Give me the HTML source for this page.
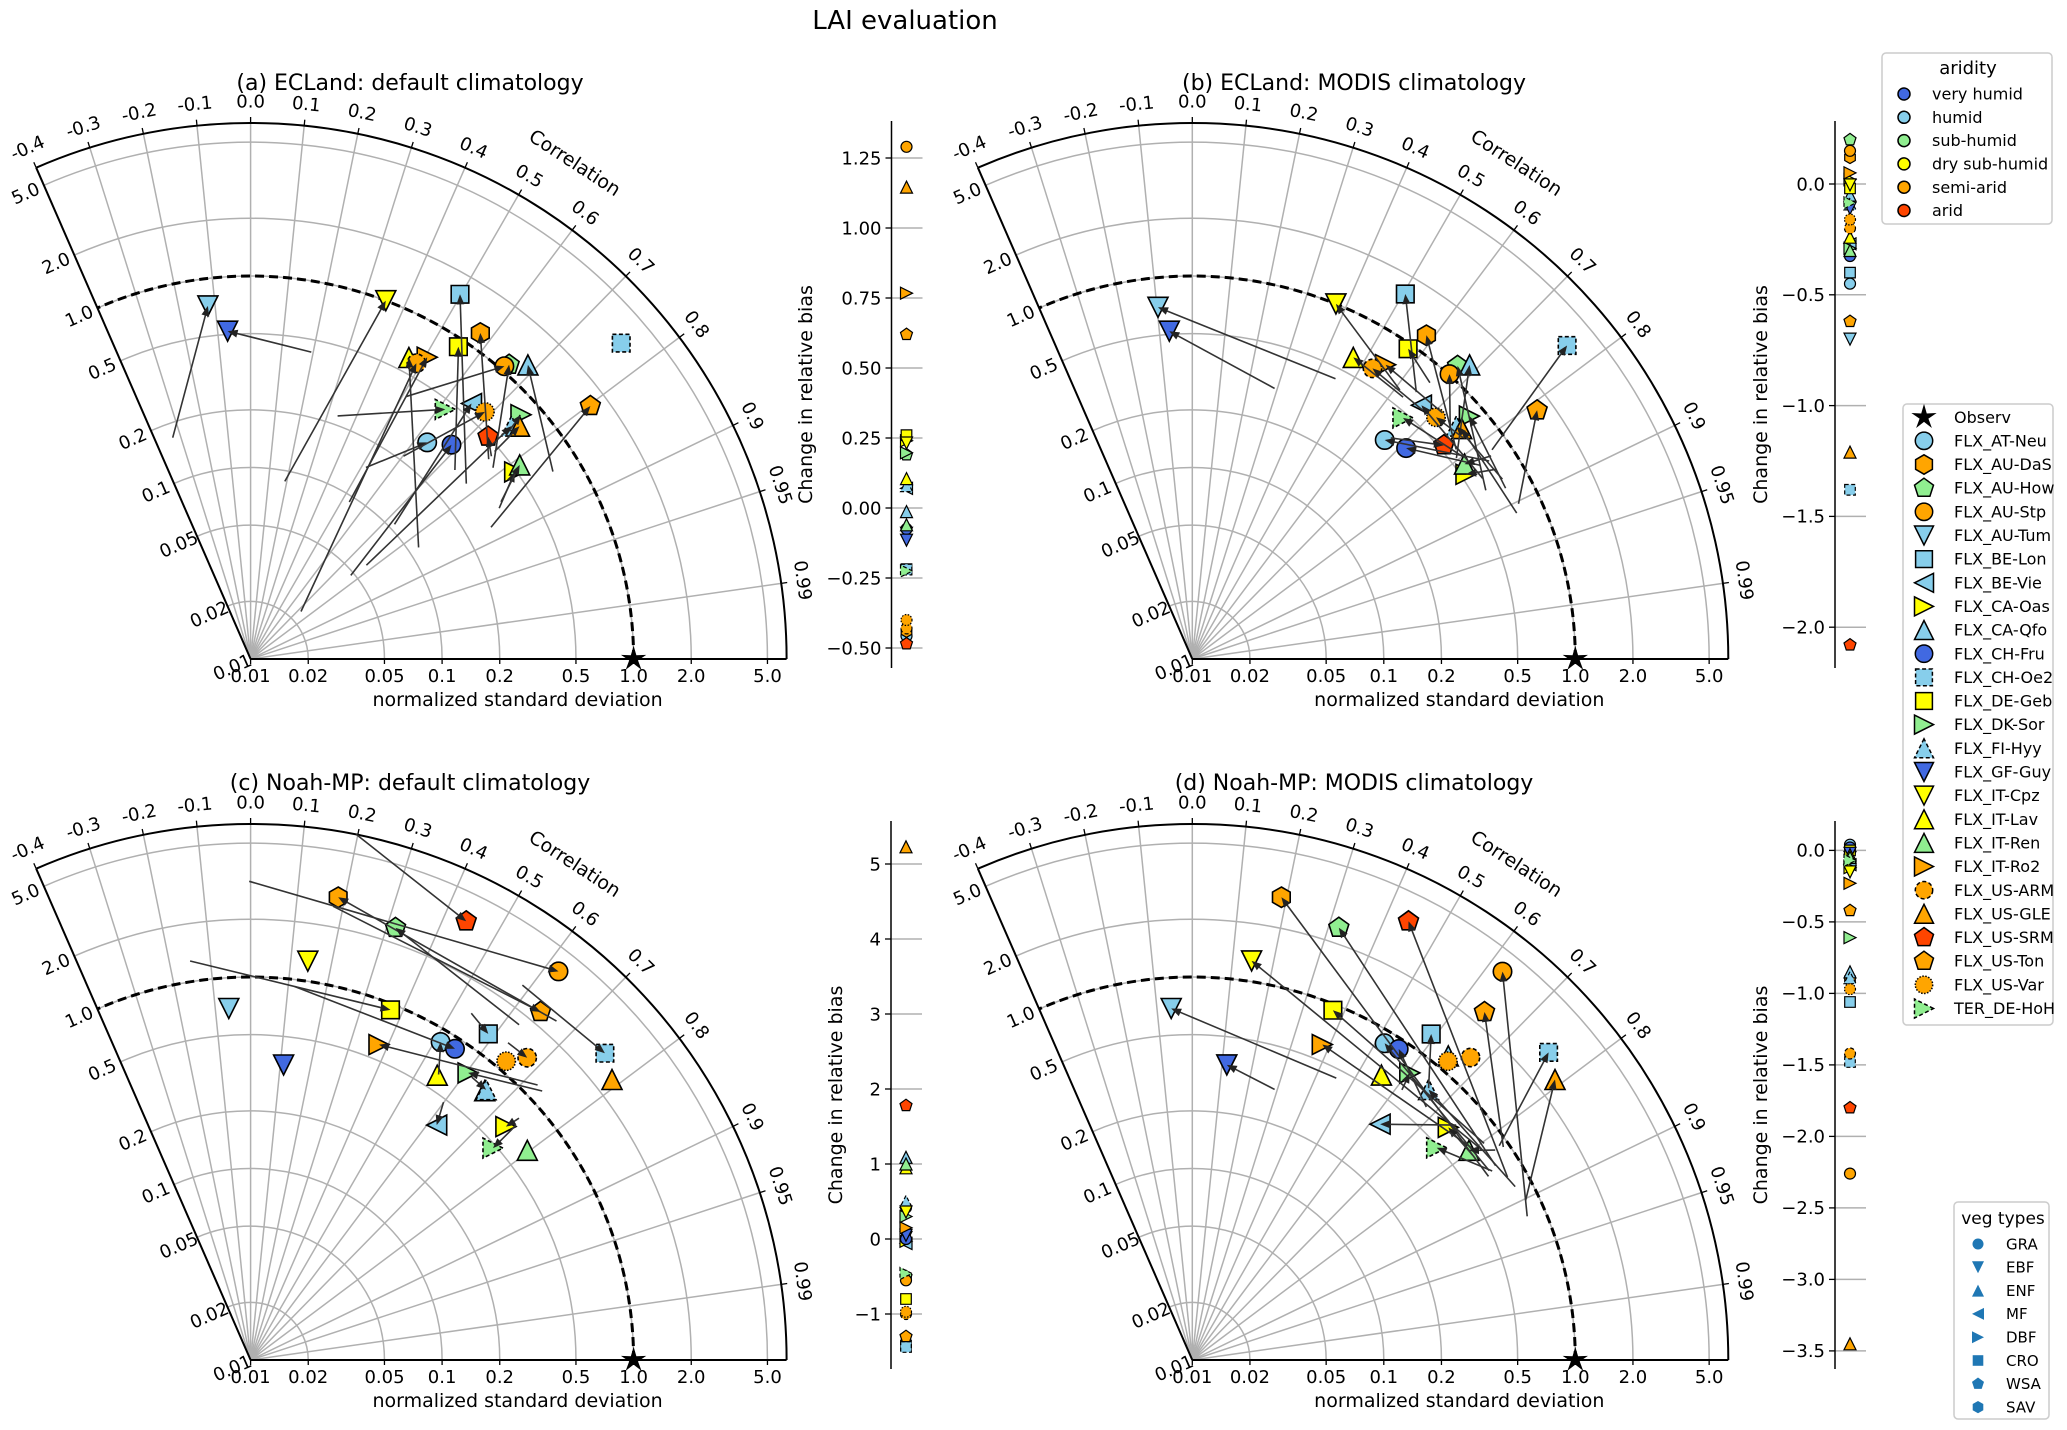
<!DOCTYPE html>
<html><head><meta charset="utf-8"><title>LAI evaluation</title>
<style>
html,body{margin:0;padding:0;background:#fff;}
svg{display:block;font-family:"DejaVu Sans","Liberation Sans",sans-serif;}
</style></head>
<body>
<svg id="chart" width="2067" height="1430" viewBox="0 0 2067 1430" xmlns="http://www.w3.org/2000/svg">
<rect x="0" y="0" width="2067" height="1430" fill="#fff"/>
<text x="905" y="29" font-size="26" text-anchor="middle">LAI evaluation</text>
</svg>
<script>
// ---------------- data ----------------
const sites = ['FLX_AT-Neu','FLX_AU-DaS','FLX_AU-How','FLX_AU-Stp','FLX_AU-Tum','FLX_BE-Lon','FLX_BE-Vie','FLX_CA-Oas','FLX_CA-Qfo','FLX_CH-Fru','FLX_CH-Oe2','FLX_DE-Geb','FLX_DK-Sor','FLX_FI-Hyy','FLX_GF-Guy','FLX_IT-Cpz','FLX_IT-Lav','FLX_IT-Ren','FLX_IT-Ro2','FLX_US-ARM','FLX_US-GLE','FLX_US-SRM','FLX_US-Ton','FLX_US-Var','TER_DE-HoH'];
const siteShape = ['o','h','p','o','v','s','<','>','^','o','s','s','>','^','v','v','^','^','>','o','^','p','p','o','>'];
const siteColor = ['#87ceeb','#ffa500','#90ee90','#ffa500','#87ceeb','#87ceeb','#87ceeb','#ffff00','#87ceeb','#4169e1','#87ceeb','#ffff00','#90ee90','#87ceeb','#4169e1','#ffff00','#ffff00','#90ee90','#ffa500','#ffa500','#ffa500','#ff4500','#ffa500','#ffa500','#90ee90'];
const siteDash = ['','','','','','','','','','','dash','','','dash','','','','','','dash','','','','dot','dash'];

// panel (a) ECLand default
const corrEndA = [.632,.576,.660,.655,-.120,.498,.654,.816,.686,.684,.761,.554,.742,.746,-.070,.353,.465,.811,.505,.489,.756,.730,.802,.688,.615];
const stdEndA = [.288,1.21,1.11,1.055,.72,1.57,.58,.49,1.29,.342,3.49,.91,.80,.67,.52,1.0,.60,.54,.67,.59,.72,.50,1.63,.60,.45];
const corrStartA = [.516,.766,.785,.509,-.332,.776,.730,.855,.850,.768,.761,.734,.751,.777,.194,.189,.833,.847,.532,.728,.762,.765,.877,.602,.337];
const stdStartA = [.147,.42,.41,.39,.168,.283,.107,.33,.72,.048,3.49,.284,.61,.060,.43,.088,.113,.35,.093,.023,.47,.44,.27,.212,.223];
const biasA = [-.457,-.44,.19,1.29,-.09,-.218,.07,.24,-.013,-.075,-.22,.26,.197,.08,-.115,.232,.105,-.06,.767,-.43,1.146,-.485,.62,-.40,-.225];
const biasTicksA = [1.25,1.00,0.75,0.50,0.25,0.00,-0.25,-0.50];

// panel (b) ECLand MODIS
const corrEndB = [.660,.586,.671,.670,-.097,.504,.670,.829,.686,.712,.767,.571,.752,.750,-.070,.375,.471,.813,.549,.527,.760,.762,.811,.710,.658];
const stdEndB = [.333,1.22,1.16,1.01,.70,1.61,.61,.53,1.29,.37,3.56,.94,.84,.69,.52,1.0,.61,.56,.69,.61,.71,.53,1.66,.62,.47];
const corrStartB = [.832,.783,.867,.743,.455,.643,.849,.848,.796,.830,.820,.652,.878,.865,.291,.611,.627,.827,.713,.680,.912,.668,.903,.774,.800];
const stdStartB = [.73,.575,.586,.65,.44,.66,.61,.74,.54,.65,.81,.80,.73,.745,.30,.595,.57,.77,.68,.59,.72,.356,.77,.67,.58];
const biasB = [-.45,.12,.2,.15,-.70,-.40,-.27,.02,-.05,-.325,-1.38,-.02,-.29,-.09,-.11,-.004,-.24,-.3,.05,-.2,-1.21,-2.08,-.62,-.16,-.085];
const biasTicksB = [0.0,-0.5,-1.0,-1.5,-2.0];

// panel (c) Noah-MP default
const corrEndC = [.513,.186,.318,.621,-.062,.589,.621,.738,.656,.549,.756,.371,.604,.657,.111,.142,.548,.797,.377,.675,.790,.441,.640,.650,.753];
const stdEndC = [.86,2.88,2.40,3.88,.69,1.28,.367,.64,.73,.88,2.80,.93,.76,.745,.355,1.27,.60,.65,.60,1.38,2.45,3.57,2.32,1.13,.48];
const corrStartC = [.550,.670,.625,-.003,-.062,.537,.599,.743,.656,.117,.587,-.150,.735,.616,.111,.142,.548,.797,.722,.630,.790,.197,.179,.650,.749];
const stdStartC = [.61,2.42,1.75,3.16,.69,1.40,.48,.77,.73,.92,2.62,1.28,1.18,.75,.355,1.27,.60,.65,1.19,1.36,2.45,6.3,2.56,1.13,.71];
const biasC = [.42,-.52,-.5,-.55,.02,-1.42,-.06,-.03,1.09,0,-1.44,-.8,.3,.5,.05,.36,.95,1.0,.15,-1.0,5.23,1.78,-1.3,-.97,-.46];
const biasTicksC = [5,4,3,2,1,0,-1];

// panel (d) Noah-MP MODIS
const corrEndD = [.519,.189,.321,.624,-.060,.591,.623,.740,.644,.553,.757,.373,.604,.658,.116,.147,.553,.797,.381,.677,.791,.442,.643,.650,.755];
const stdEndD = [.86,2.89,2.42,3.94,.69,1.29,.375,.64,1.19,.89,2.87,.93,.76,.75,.356,1.28,.61,.65,.605,1.40,2.48,3.58,2.36,1.13,.49];
const corrStartD = [.843,.850,.842,.919,.455,.656,.747,.807,.644,.679,.820,.803,.613,.881,.291,.810,.553,.822,.797,.677,.902,.865,.825,.650,.846];
const stdStartD = [.69,.66,.76,.80,.45,.76,.70,.65,1.19,.63,.90,.79,.61,.82,.30,.74,.61,.84,.68,1.40,.85,.80,.93,1.13,.71];
const biasD = [.04,-.9,-.08,-2.26,-.05,-1.06,-.1,-.12,-.85,.02,-1.48,0,-.61,-.89,-.02,-.15,-.03,-.05,-.23,-1.42,-3.45,-1.8,-.42,-.97,-.07];
const biasTicksD = [0.0,-0.5,-1.0,-1.5,-2.0,-2.5,-3.0,-3.5];

const corrTicks = [-0.4,-0.3,-0.2,-0.1,0.0,0.1,0.2,0.3,0.4,0.5,0.6,0.7,0.8,0.9,0.95,0.99];
const corrTickLabels = ['-0.4','-0.3','-0.2','-0.1','0.0','0.1','0.2','0.3','0.4','0.5','0.6','0.7','0.8','0.9','0.95','0.99'];
const stdTicks = [0.01,0.02,0.05,0.1,0.2,0.5,1,2,5];
const stdTickLabels = ['0.01','0.02','0.05','0.1','0.2','0.5','1.0','2.0','5.0'];

const aridityNames = ['very humid','humid','sub-humid','dry sub-humid','semi-arid','arid'];
const aridityColors = ['#4169e1','#87ceeb','#90ee90','#ffff00','#ffa500','#ff4500'];
const vegNames = ['GRA','EBF','ENF','MF','DBF','CRO','WSA','SAV'];
const vegShapes = ['o','v','^','<','>','s','p','h'];

// ---------------- drawing ----------------
const NS = 'http://www.w3.org/2000/svg';
const svg = document.getElementById('chart');
function mk(tag, parent){ const e = document.createElementNS(NS, tag); (parent||svg).appendChild(e); return e; }
function setA(e, o){ for (const k in o) e.setAttribute(k, o[k]); return e; }

const K = 191.5, R = 536, TMAX = Math.acos(-0.4);
function rOf(s){ return Math.max(0, K*Math.log10(s/0.01)); }
function pos(p, c, s){ const r = rOf(s), t = Math.acos(Math.max(-1,Math.min(1,c))); return [p.ox + r*Math.cos(t), p.oy - r*Math.sin(t)]; }

function poly(pts){ return pts.map(q=>q[0].toFixed(1)+','+q[1].toFixed(1)).join(' '); }
function shapePts(shape, x, y, d){
  const h = d/2; let pts = [];
  if (shape==='^') pts=[[x,y-h],[x-h,y+h],[x+h,y+h]];
  else if (shape==='v') pts=[[x,y+h],[x-h,y-h],[x+h,y-h]];
  else if (shape==='<') pts=[[x-h,y],[x+h,y-h],[x+h,y+h]];
  else if (shape==='>') pts=[[x+h,y],[x-h,y-h],[x-h,y+h]];
  else if (shape==='s') { const a=h*0.88; pts=[[x-a,y-a],[x+a,y-a],[x+a,y+a],[x-a,y+a]]; }
  else if (shape==='p') { for(let i=0;i<5;i++){const a=-Math.PI/2+i*2*Math.PI/5; pts.push([x+h*1.05*Math.cos(a), y+h*1.05*Math.sin(a)]);} }
  else if (shape==='h') { for(let i=0;i<6;i++){const a=-Math.PI/2+i*Math.PI/3; pts.push([x+h*1.02*Math.cos(a), y+h*1.02*Math.sin(a)]);} }
  else if (shape==='*') { for(let i=0;i<10;i++){const a=-Math.PI/2+i*Math.PI/5; const rr=(i%2?0.4:1.15)*h; pts.push([x+rr*Math.cos(a), y+rr*Math.sin(a)]);} }
  return pts;
}
function marker(parent, shape, x, y, d, fill, dash, lw){
  let e;
  if (shape==='o') { e = mk('circle', parent); setA(e,{cx:x.toFixed(1), cy:y.toFixed(1), r:(d/2*0.92).toFixed(1)}); }
  else { e = mk('polygon', parent); setA(e,{points: poly(shapePts(shape,x,y,d))}); }
  setA(e,{fill:fill, stroke:'#000', 'stroke-width': lw||1.5});
  if (dash==='dash') e.setAttribute('stroke-dasharray','4,2.5');
  if (dash==='dot') e.setAttribute('stroke-dasharray','1.5,1.5');
  return e;
}
function text(parent, str, x, y, size, anchor, extra){
  const t = mk('text', parent); setA(t,{x:x.toFixed(1), y:y.toFixed(1), 'font-size':size, 'text-anchor':anchor||'middle'});
  if (extra) setA(t, extra);
  t.textContent = str; return t;
}

function taylor(p){
  const g = mk('g');
  
  
  const {ox, oy} = p;
  // std arcs
  stdTicks.slice(1).forEach(s=>{
    const r = rOf(s);
    const a = mk('path', g);
    
    
    setA(a,{d:`M ${ox+r} ${oy} A ${r} ${r} 0 0 0 ${(ox+r*Math.cos(TMAX)).toFixed(1)} ${(oy-r*Math.sin(TMAX)).toFixed(1)}`, fill:'none', stroke:'#b0b0b0', 'stroke-width':1.5});
  });
  // correlation lines
  corrTicks.forEach((c,i)=>{
    const t = Math.acos(c);
    const l = mk('line', g);
    
    
    setA(l,{x1:ox, y1:oy, x2:(ox+R*Math.cos(t)).toFixed(1), y2:(oy-R*Math.sin(t)).toFixed(1), stroke:'#b0b0b0', 'stroke-width':1.5});
    const tk = mk('line', g);
    
    
    setA(tk,{x1:(ox+R*Math.cos(t)).toFixed(1), y1:(oy-R*Math.sin(t)).toFixed(1), x2:(ox+(R+6)*Math.cos(t)).toFixed(1), y2:(oy-(R+6)*Math.sin(t)).toFixed(1), stroke:'#000', 'stroke-width':1.3});
    const lr = R + 22, lx = ox + lr*Math.cos(t), ly = oy - lr*Math.sin(t);
    const rot = 90 - t*180/Math.PI;
    const lab = text(g, corrTickLabels[i], lx, ly, 18, 'middle', {transform:`rotate(${rot.toFixed(1)} ${lx.toFixed(1)} ${ly.toFixed(1)})`, dy:'0.35em'});
    
    
  });
  // correlation axis title
  { const t = Math.acos(0.547), lr = R + 57, lx = ox + lr*Math.cos(t), ly = oy - lr*Math.sin(t);
    const ct = text(g, 'Correlation', lx, ly, 19, 'middle', {transform:`rotate(${(90 - t*180/Math.PI).toFixed(1)} ${lx.toFixed(1)} ${ly.toFixed(1)})`, dy:'0.35em'});
    
     }
  // outer frame
  const oa = mk('path', g);
  
  
  setA(oa,{d:`M ${ox+R} ${oy} A ${R} ${R} 0 0 0 ${(ox+R*Math.cos(TMAX)).toFixed(1)} ${(oy-R*Math.sin(TMAX)).toFixed(1)}`, fill:'none', stroke:'#000', 'stroke-width':2});
  const xa = mk('line', g);
  
  
  setA(xa,{x1:ox, y1:oy, x2:ox+R, y2:oy, stroke:'#000', 'stroke-width':2});
  const la = mk('line', g);
  
  
  setA(la,{x1:ox, y1:oy, x2:(ox+R*Math.cos(TMAX)).toFixed(1), y2:(oy-R*Math.sin(TMAX)).toFixed(1), stroke:'#000', 'stroke-width':2});
  // std tick labels
  const ux = Math.cos(TMAX), uy = -Math.sin(TMAX);
  stdTicks.forEach((s,i)=>{
    const r = rOf(s);
    const tl = text(g, stdTickLabels[i], ox + r, oy + 23, 18, 'middle');
    
    
    const tk = mk('line', g);
    
    
    setA(tk,{x1:ox+r, y1:oy, x2:ox+r, y2:oy+5, stroke:'#000', 'stroke-width':1.3});
    const px = ox + r*ux - 20*0.917, py = oy + r*uy + 20*0.4;
    const ll = text(g, stdTickLabels[i], px, py, 18, 'middle', {transform:`rotate(-23.6 ${px.toFixed(1)} ${py.toFixed(1)})`, dy:'0.35em'});
    
    
  });
  const xt = text(g, 'normalized standard deviation', ox + 267, oy + 47, 19, 'middle');
  
  
  const tt = text(g, p.title, p.tx, p.ty, 22, 'middle');
  
  
  // reference arc (std = 1)
  { const r = rOf(1);
    const ra = mk('path', g);
    
    
    setA(ra,{d:`M ${ox+r} ${oy} A ${r} ${r} 0 0 0 ${(ox+r*Math.cos(TMAX)).toFixed(1)} ${(oy-r*Math.sin(TMAX)).toFixed(1)}`, fill:'none', stroke:'#000', 'stroke-width':3, 'stroke-dasharray':'9,5'}); }
  // markers
  sites.forEach((nm,i)=>{
    const [x,y] = pos(p, p.cE[i], p.sE[i]);
    const m = marker(g, siteShape[i], x, y, 20, siteColor[i], siteDash[i], 1.6);
    
    
  });
  // arrows
  sites.forEach((nm,i)=>{
    const [x2,y2] = pos(p, p.cE[i], p.sE[i]);
    const [x1,y1] = pos(p, p.cS[i], p.sS[i]);
    const dx = x2-x1, dy = y2-y1, L = Math.hypot(dx,dy);
    if (L < 6) return;
    const ux2 = dx/L, uy2 = dy/L;
    const ln = mk('line', g);
    
    
    setA(ln,{x1:x1.toFixed(1), y1:y1.toFixed(1), x2:(x2-ux2*6).toFixed(1), y2:(y2-uy2*6).toFixed(1), stroke:'#333', 'stroke-width':1.6});
    const hd = mk('polygon', g);
    
    
    const bx = x2 - ux2*10, by = y2 - uy2*10;
    setA(hd,{points: poly([[x2,y2],[bx - uy2*4, by + ux2*4],[bx + uy2*4, by - ux2*4]]), fill:'#222'});
  });
  // observation star
  const [sx,sy] = pos(p, 1, 1);
  const st = marker(g, '*', sx, sy, 20, '#000', '', 1);
  
  
}

function biasPanel(b){
  const g = mk('g');
  
  
  const yOf = v => b.zeroY - v*b.ppu;
  b.ticks.forEach(v=>{
    const y = yOf(v);
    const gl = mk('line', g);
    
    
    setA(gl,{x1:b.ax, y1:y.toFixed(1), x2:b.ax+31, y2:y.toFixed(1), stroke:'#b0b0b0', 'stroke-width':1.5});
    const tk = mk('line', g);
    
    
    setA(tk,{x1:b.ax-6, y1:y.toFixed(1), x2:b.ax, y2:y.toFixed(1), stroke:'#000', 'stroke-width':1.3});
    const s = (v<0?'\u2212':'') + Math.abs(v).toFixed(b.dec);
    const tl = text(g, s, b.ax-10, y, 18, 'end', {dy:'0.35em'});
    
    
  });
  const al = mk('line', g);
  
  
  setA(al,{x1:b.ax, y1:b.top, x2:b.ax, y2:b.bot, stroke:'#000', 'stroke-width':1.5});
  const yl = text(g, 'Change in relative bias', b.lx, (b.top+b.bot)/2, 19, 'middle', {transform:`rotate(-90 ${b.lx} ${((b.top+b.bot)/2).toFixed(1)})`});
  
  
  sites.forEach((nm,i)=>{
    const m = marker(g, siteShape[i], b.ax+15, yOf(b.vals[i]), 12, siteColor[i], siteDash[i], 1.2);
    
    
  });
}

taylor({key:'panel-a', ox:250.6, oy:659, tx:410, ty:90, title:'(a) ECLand: default climatology', cE:corrEndA, sE:stdEndA, cS:corrStartA, sS:stdStartA});
taylor({key:'panel-b', ox:1192.3, oy:659, tx:1354, ty:90, title:'(b) ECLand: MODIS climatology', cE:corrEndB, sE:stdEndB, cS:corrStartB, sS:stdStartB});
taylor({key:'panel-c', ox:250.6, oy:1360, tx:410, ty:790, title:'(c) Noah-MP: default climatology', cE:corrEndC, sE:stdEndC, cS:corrStartC, sS:stdStartC});
taylor({key:'panel-d', ox:1192.3, oy:1360, tx:1354, ty:790, title:'(d) Noah-MP: MODIS climatology', cE:corrEndD, sE:stdEndD, cS:corrStartD, sS:stdStartD});

biasPanel({key:'panel-a', ax:891.5, top:121, bot:668, zeroY:508, ppu:280, ticks:biasTicksA, dec:2, lx:812, vals:biasA});
biasPanel({key:'panel-b', ax:1835, top:121, bot:668, zeroY:184, ppu:221.6, ticks:biasTicksB, dec:1, lx:1767, vals:biasB});
biasPanel({key:'panel-c', ax:891, top:821, bot:1369, zeroY:1239, ppu:75, ticks:biasTicksC, dec:0, lx:842, vals:biasC});
biasPanel({key:'panel-d', ax:1835, top:821, bot:1369, zeroY:850.4, ppu:143, ticks:biasTicksD, dec:1, lx:1767, vals:biasD});

// ---------- legends ----------
function box(g, x, y, w, h){
  const r = mk('rect', g);
  
  
  setA(r,{x:x, y:y, width:w, height:h, rx:4, fill:'#fff', 'fill-opacity':0.85, stroke:'#cccccc', 'stroke-width':1.5});
}
{ // aridity legend
  const g = mk('g');
  
  
  box(g, 1882, 53, 170, 171);
  const t = text(g, 'aridity', 1968, 74, 18, 'middle');
  
  
  aridityNames.forEach((n,i)=>{
    const y = 94 + i*23.3;
    const m = marker(g, 'o', 1904, y, 13, aridityColors[i], '', 1.5);
    
    
    const tx = text(g, n, 1932, y, 16, 'start', {dy:'0.35em'});
    
    
  });
}
{ // site legend
  const g = mk('g');
  
  
  box(g, 1903, 404, 150, 621);
  const y0 = 417.2, dy = 23.65;
  const st = marker(g, '*', 1924, y0, 20, '#000', '', 1);
  
  
  const ot = text(g, 'Observ', 1954, y0, 16, 'start', {dy:'0.35em'});
  
  
  sites.forEach((n,i)=>{
    const y = y0 + (i+1)*dy;
    const m = marker(g, siteShape[i], 1924, y, 19, siteColor[i], siteDash[i], 1.5);
    
    
    const tx = text(g, n, 1954, y, 16, 'start', {dy:'0.35em'});
    
    
  });
}
{ // veg legend
  const g = mk('g');
  
  
  box(g, 1954, 1202, 95, 217);
  const t = text(g, 'veg types', 2003, 1224, 17, 'middle');
  
  
  vegNames.forEach((n,i)=>{
    const y = 1244 + i*23.3;
    const m = marker(g, vegShapes[i], 1978, y, 12, '#1f77b4', '', 0);
    m.setAttribute('stroke', 'none');
    
    
    const tx = text(g, n, 2006, y, 15, 'start', {dy:'0.35em'});
    
    
  });
}
</script>
</body></html>
